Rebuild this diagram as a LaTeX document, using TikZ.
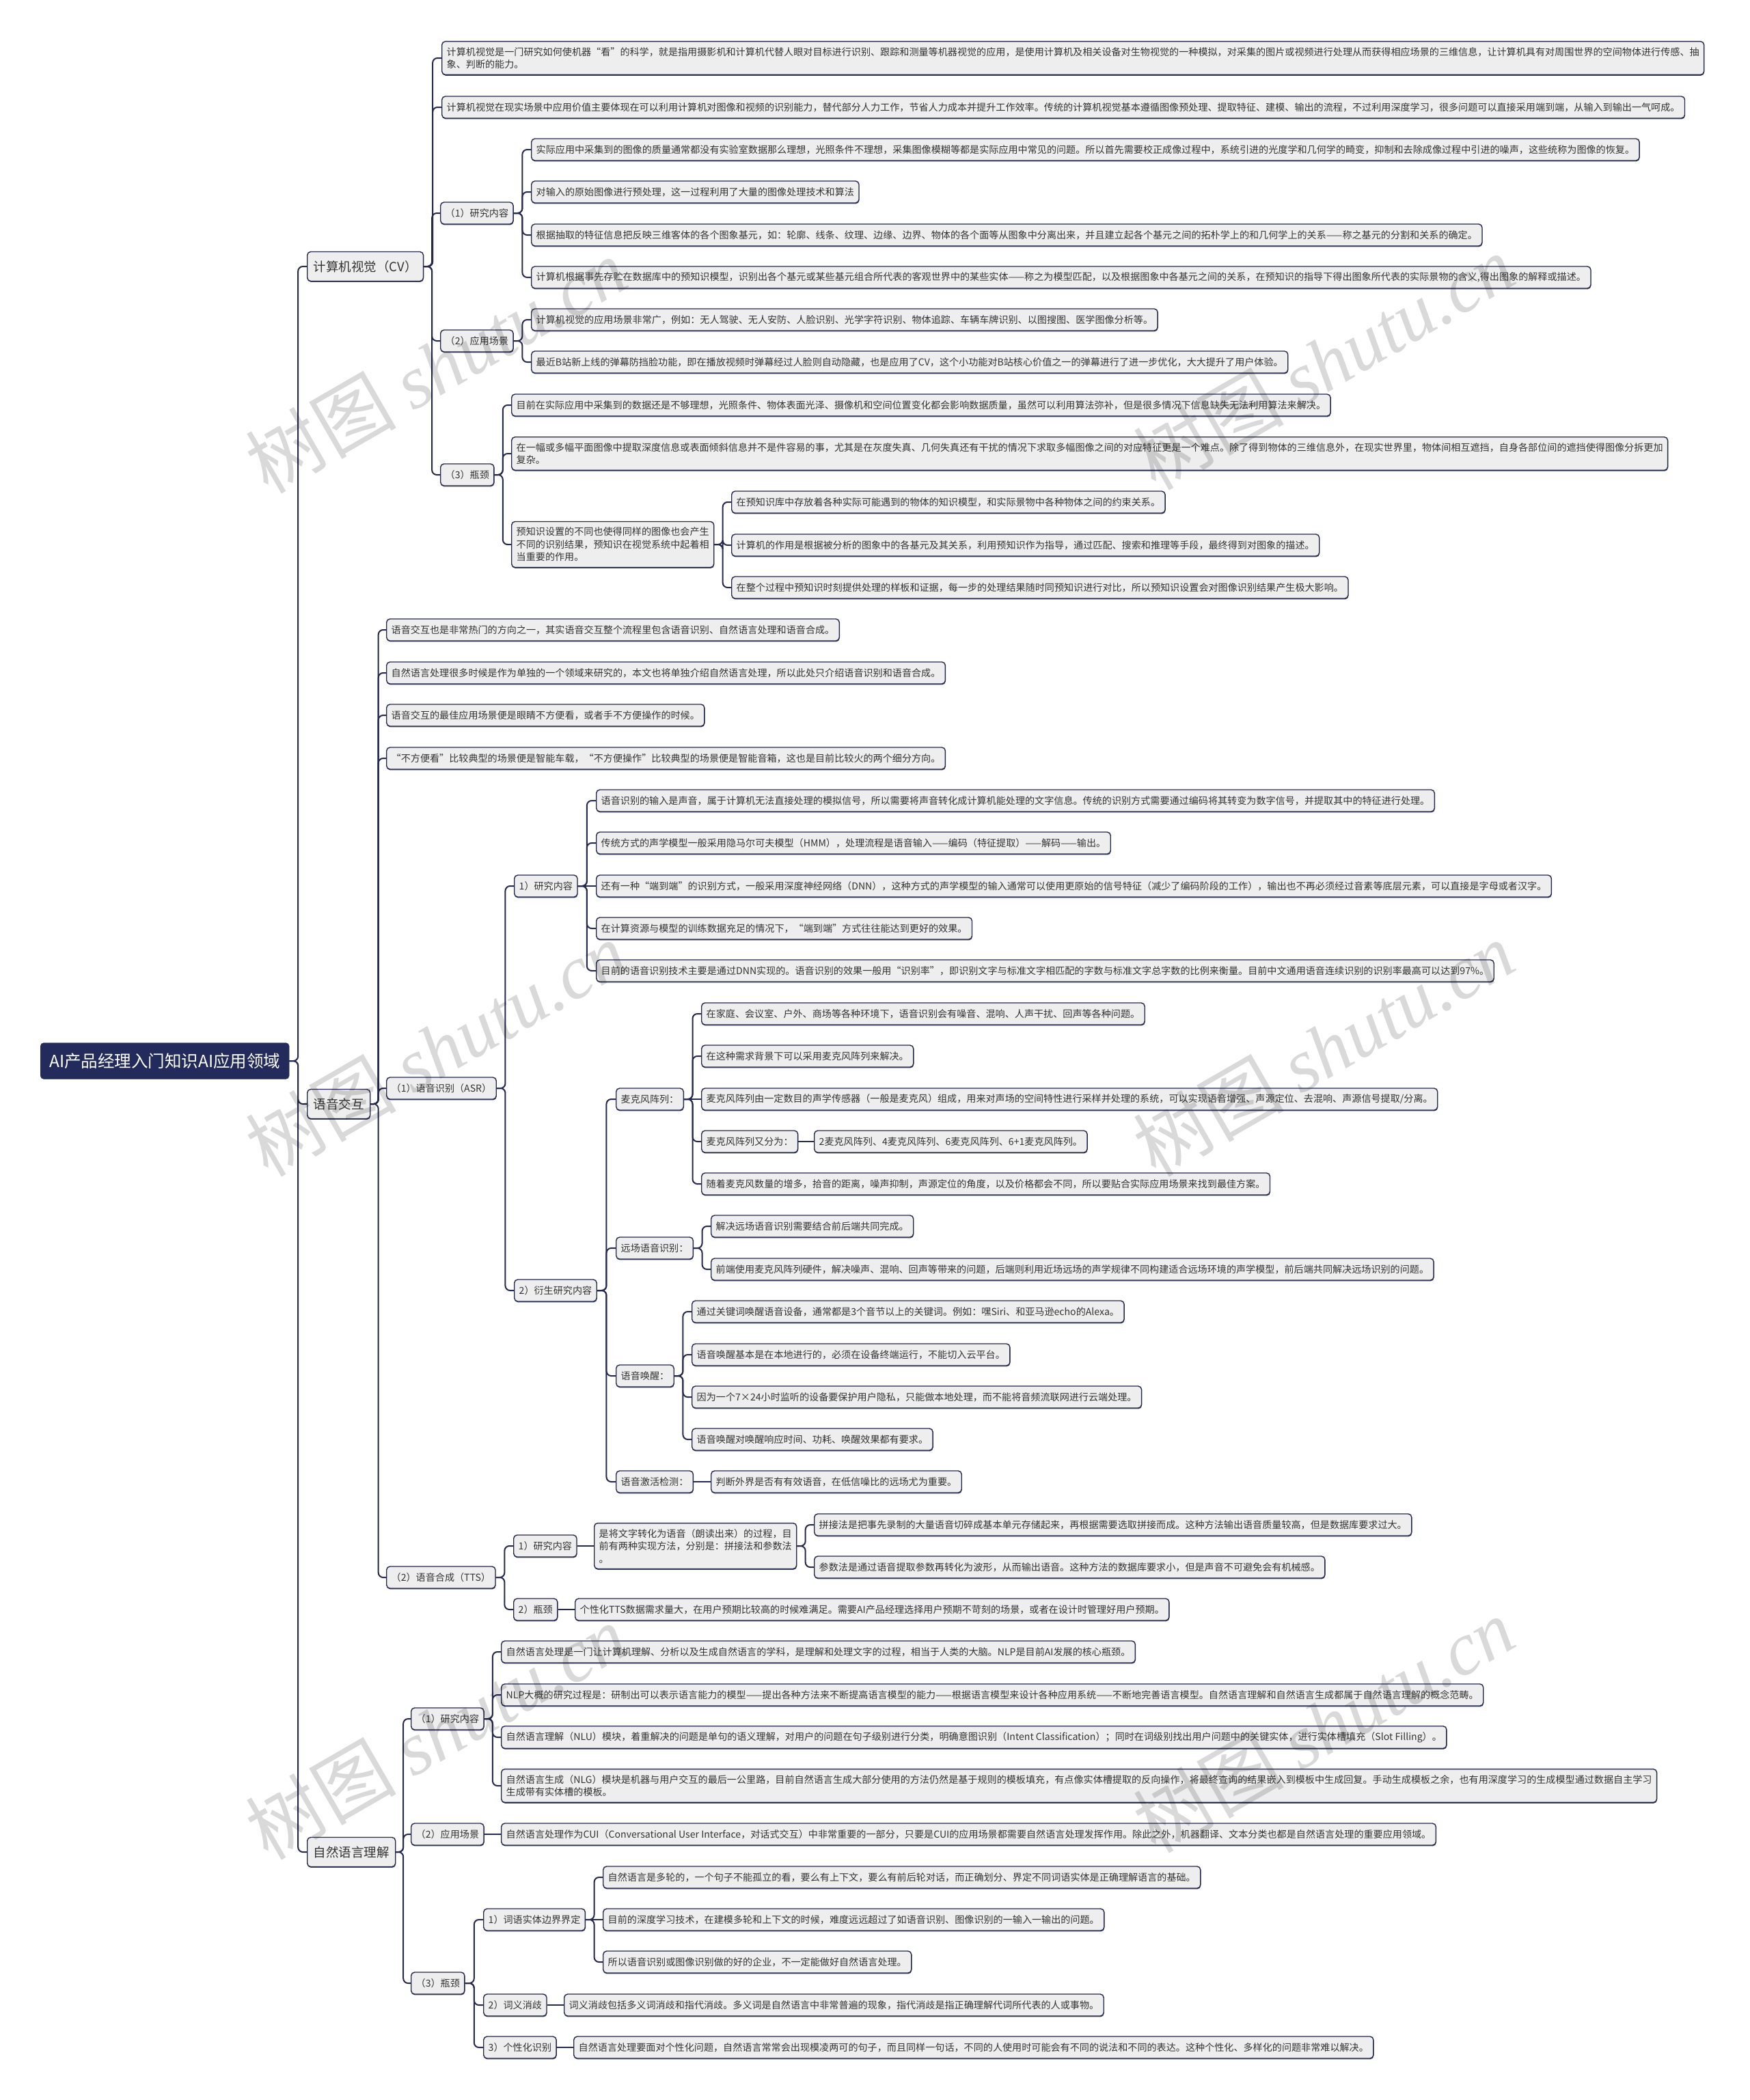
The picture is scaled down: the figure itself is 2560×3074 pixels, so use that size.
\documentclass[tikz,border=0pt]{standalone}
\usepackage{fontspec}
\setmainfont{Noto Sans CJK SC}
\newfontfamily\wmlatin{Liberation Serif}
\usetikzlibrary{calc,shadows}
\definecolor{navy}{HTML}{252A4E}
\definecolor{boxfill}{HTML}{EEEEEE}
\definecolor{txt}{HTML}{333333}
\definecolor{rootfill}{HTML}{222B5C}
\tikzset{
 leaf/.style={draw=navy, line width=1.4pt, fill=boxfill, rounded corners=5pt, text=txt,
   font=\fontsize{14.1}{18.5}\selectfont, inner xsep=7pt, inner ysep=8.5pt, minimum height=32pt,
   anchor=west, align=left, drop shadow={shadow xshift=0.4pt, shadow yshift=-1.4pt, fill=navy, opacity=0.85}},
 lone/.style={leaf, font=\fontsize{18.5}{22}\selectfont, inner xsep=9pt, minimum height=43pt},
 rootbox/.style={fill=rootfill, draw=rootfill, rounded corners=5pt, text=white,
   font=\fontsize{24.5}{28}\selectfont, minimum width=364pt, minimum height=53pt, anchor=west},
 conn/.style={draw=navy, line width=2pt, rounded corners=7pt},
 wm/.style={text=black, opacity=0.15, rotate=30, font=\fontsize{110}{110}\selectfont}
}
\newcommand{\mmlink}[2]{\draw[conn] let \p1=(#1.east), \p2=(#2.west) in (\p1) -- ({0.5*\x1+0.5*\x2},\y1) |- (\p2);}
\newcommand{\mmstraight}[2]{\draw[conn] (#1.east) -- (#2.west);}
\begin{document}
\begin{tikzpicture}[x=1pt, y=-1pt]
\fill[white] (0,0) rectangle (2560,3074);
\useasboundingbox (0,0) rectangle (2560,3074);

% root and level 1
\node[rootbox] (root) at (59,1553) {AI产品经理入门知识AI应用领域};
\node[lone] (cv) at (449,390) {计算机视觉（CV）};
\node[lone] (voice) at (449,1616) {语音交互};
\node[lone] (nlu) at (449,2711) {自然语言理解};

% ---------- CV ----------
\node[leaf] (cv1) at (646,85) {计算机视觉是一门研究如何使机器“看”的科学，就是指用摄影机和计算机代替人眼对目标进行识别、跟踪和测量等机器视觉的应用，是使用计算机及相关设备对生物视觉的一种模拟，对采集的图片或视频进行处理从而获得相应场景的三维信息，让计算机具有对周围世界的空间物体进行传感、抽\\象、判断的能力。};
\node[leaf] (cv2) at (646,157) {计算机视觉在现实场景中应用价值主要体现在可以利用计算机对图像和视频的识别能力，替代部分人力工作，节省人力成本并提升工作效率。传统的计算机视觉基本遵循图像预处理、提取特征、建模、输出的流程，不过利用深度学习，很多问题可以直接采用端到端，从输入到输出一气呵成。};
\node[leaf] (cvr) at (644,312) {（1）研究内容};
\node[leaf] (cvr1) at (777,219) {实际应用中采集到的图像的质量通常都没有实验室数据那么理想，光照条件不理想，采集图像模糊等都是实际应用中常见的问题。所以首先需要校正成像过程中，系统引进的光度学和几何学的畸变，抑制和去除成像过程中引进的噪声，这些统称为图像的恢复。};
\node[leaf] (cvr2) at (777,281) {对输入的原始图像进行预处理，这一过程利用了大量的图像处理技术和算法};
\node[leaf] (cvr3) at (777,344) {根据抽取的特征信息把反映三维客体的各个图象基元，如：轮廓、线条、纹理、边缘、边界、物体的各个面等从图象中分离出来，并且建立起各个基元之间的拓朴学上的和几何学上的关系——称之基元的分割和关系的确定。};
\node[leaf] (cvr4) at (777,406) {计算机根据事先存贮在数据库中的预知识模型，识别出各个基元或某些基元组合所代表的客观世界中的某些实体——称之为模型匹配，以及根据图象中各基元之间的关系，在预知识的指导下得出图象所代表的实际景物的含义,得出图象的解释或描述。};
\node[leaf] (cva) at (644,499) {（2）应用场景};
\node[leaf] (cva1) at (777,468) {计算机视觉的应用场景非常广，例如：无人驾驶、无人安防、人脸识别、光学字符识别、物体追踪、车辆车牌识别、以图搜图、医学图像分析等。};
\node[leaf] (cva2) at (777,530) {最近B站新上线的弹幕防挡脸功能，即在播放视频时弹幕经过人脸则自动隐藏，也是应用了CV，这个小功能对B站核心价值之一的弹幕进行了进一步优化，大大提升了用户体验。};
\node[leaf] (cvb) at (644,695) {（3）瓶颈};
\node[leaf] (cvb1) at (748,593) {目前在实际应用中采集到的数据还是不够理想，光照条件、物体表面光泽、摄像机和空间位置变化都会影响数据质量，虽然可以利用算法弥补，但是很多情况下信息缺失无法利用算法来解决。};
\node[leaf] (cvb2) at (748,664) {在一幅或多幅平面图像中提取深度信息或表面倾斜信息并不是件容易的事，尤其是在灰度失真、几何失真还有干扰的情况下求取多幅图像之间的对应特征更是一个难点。除了得到物体的三维信息外，在现实世界里，物体间相互遮挡，自身各部位间的遮挡使得图像分拆更加\\复杂。};
\node[leaf] (cvb3) at (748,797) {预知识设置的不同也使得同样的图像也会产生\\不同的识别结果，预知识在视觉系统中起着相\\当重要的作用。};
\node[leaf] (cvb31) at (1070,735) {在预知识库中存放着各种实际可能遇到的物体的知识模型，和实际景物中各种物体之间的约束关系。};
\node[leaf] (cvb32) at (1070,798) {计算机的作用是根据被分析的图象中的各基元及其关系，利用预知识作为指导，通过匹配、搜索和推理等手段，最终得到对图象的描述。};
\node[leaf] (cvb33) at (1070,860) {在整个过程中预知识时刻提供处理的样板和证据，每一步的处理结果随时同预知识进行对比，所以预知识设置会对图像识别结果产生极大影响。};

% ---------- Voice ----------
\node[leaf] (v1) at (565,922) {语音交互也是非常热门的方向之一，其实语音交互整个流程里包含语音识别、自然语言处理和语音合成。};
\node[leaf] (v2) at (565,985) {自然语言处理很多时候是作为单独的一个领域来研究的，本文也将单独介绍自然语言处理，所以此处只介绍语音识别和语音合成。};
\node[leaf] (v3) at (565,1047) {语音交互的最佳应用场景便是眼睛不方便看，或者手不方便操作的时候。};
\node[leaf] (v4) at (565,1110) {“不方便看”比较典型的场景便是智能车载，“不方便操作”比较典型的场景便是智能音箱，这也是目前比较火的两个细分方向。};
\node[leaf] (asr) at (565,1593) {（1）语音识别（ASR）};
\node[leaf] (asr1) at (752,1297) {1）研究内容};
\node[leaf] (r1) at (872,1172) {语音识别的输入是声音，属于计算机无法直接处理的模拟信号，所以需要将声音转化成计算机能处理的文字信息。传统的识别方式需要通过编码将其转变为数字信号，并提取其中的特征进行处理。};
\node[leaf] (r2) at (872,1234) {传统方式的声学模型一般采用隐马尔可夫模型（HMM），处理流程是语音输入——编码（特征提取）——解码——输出。};
\node[leaf] (r3) at (872,1297) {还有一种“端到端”的识别方式，一般采用深度神经网络（DNN），这种方式的声学模型的输入通常可以使用更原始的信号特征（减少了编码阶段的工作），输出也不再必须经过音素等底层元素，可以直接是字母或者汉字。};
\node[leaf] (r4) at (872,1359) {在计算资源与模型的训练数据充足的情况下，“端到端”方式往往能达到更好的效果。};
\node[leaf] (r5) at (872,1421) {目前的语音识别技术主要是通过DNN实现的。语音识别的效果一般用“识别率”，即识别文字与标准文字相匹配的字数与标准文字总字数的比例来衡量。目前中文通用语音连续识别的识别率最高可以达到97\%。};
\node[leaf] (asr2) at (752,1889) {2）衍生研究内容};
\node[leaf] (mic) at (901,1609) {麦克风阵列：};
\node[leaf] (m1) at (1026,1484) {在家庭、会议室、户外、商场等各种环境下，语音识别会有噪音、混响、人声干扰、回声等各种问题。};
\node[leaf] (m2) at (1026,1546) {在这种需求背景下可以采用麦克风阵列来解决。};
\node[leaf] (m3) at (1026,1609) {麦克风阵列由一定数目的声学传感器（一般是麦克风）组成，用来对声场的空间特性进行采样并处理的系统，可以实现语音增强、声源定位、去混响、声源信号提取/分离。};
\node[leaf] (m4) at (1026,1671) {麦克风阵列又分为：};
\node[leaf] (m41) at (1191,1671) {2麦克风阵列、4麦克风阵列、6麦克风阵列、6+1麦克风阵列。};
\node[leaf] (m5) at (1026,1733) {随着麦克风数量的增多，拾音的距离，噪声抑制，声源定位的角度，以及价格都会不同，所以要贴合实际应用场景来找到最佳方案。};
\node[leaf] (far) at (901,1827) {远场语音识别：};
\node[leaf] (f1) at (1040,1795) {解决远场语音识别需要结合前后端共同完成。};
\node[leaf] (f2) at (1040,1858) {前端使用麦克风阵列硬件，解决噪声、混响、回声等带来的问题，后端则利用近场远场的声学规律不同构建适合远场环境的声学模型，前后端共同解决远场识别的问题。};
\node[leaf] (wake) at (901,2014) {语音唤醒：};
\node[leaf] (w1) at (1012,1920) {通过关键词唤醒语音设备，通常都是3个音节以上的关键词。例如：嘿Siri、和亚马逊echo的Alexa。};
\node[leaf] (w2) at (1012,1983) {语音唤醒基本是在本地进行的，必须在设备终端运行，不能切入云平台。};
\node[leaf] (w3) at (1012,2045) {因为一个7×24小时监听的设备要保护用户隐私，只能做本地处理，而不能将音频流联网进行云端处理。};
\node[leaf] (w4) at (1012,2107) {语音唤醒对唤醒响应时间、功耗、唤醒效果都有要求。};
\node[leaf] (vad) at (901,2169) {语音激活检测：};
\node[leaf] (vad1) at (1040,2169) {判断外界是否有有效语音，在低信噪比的远场尤为重要。};
\node[leaf] (tts) at (565,2309) {（2）语音合成（TTS）};
\node[leaf] (tts1) at (751,2263) {1）研究内容};
\node[leaf] (tts11) at (869,2263) {是将文字转化为语音（朗读出来）的过程，目\\前有两种实现方法，分别是：拼接法和参数法\\。};
\node[leaf] (s1) at (1191,2232) {拼接法是把事先录制的大量语音切碎成基本单元存储起来，再根据需要选取拼接而成。这种方法输出语音质量较高，但是数据库要求过大。};
\node[leaf] (s2) at (1191,2294) {参数法是通过语音提取参数再转化为波形，从而输出语音。这种方法的数据库要求小，但是声音不可避免会有机械感。};
\node[leaf] (tts2) at (751,2356) {2）瓶颈};
\node[leaf] (tts21) at (841,2356) {个性化TTS数据需求量大，在用户预期比较高的时候难满足。需要AI产品经理选择用户预期不苛刻的场景，或者在设计时管理好用户预期。};

% ---------- NLU ----------
\node[leaf] (nr) at (601,2516) {（1）研究内容};
\node[leaf] (n1) at (733,2418) {自然语言处理是一门让计算机理解、分析以及生成自然语言的学科，是理解和处理文字的过程，相当于人类的大脑。NLP是目前AI发展的核心瓶颈。};
\node[leaf] (n2) at (733,2481) {NLP大概的研究过程是：研制出可以表示语言能力的模型——提出各种方法来不断提高语言模型的能力——根据语言模型来设计各种应用系统——不断地完善语言模型。自然语言理解和自然语言生成都属于自然语言理解的概念范畴。};
\node[leaf] (n3) at (733,2543) {自然语言理解（NLU）模块，着重解决的问题是单句的语义理解，对用户的问题在句子级别进行分类，明确意图识别（Intent Classification）；同时在词级别找出用户问题中的关键实体，进行实体槽填充（Slot Filling）。};
\node[leaf] (n4) at (733,2614) {自然语言生成（NLG）模块是机器与用户交互的最后一公里路，目前自然语言生成大部分使用的方法仍然是基于规则的模板填充，有点像实体槽提取的反向操作，将最终查询的结果嵌入到模板中生成回复。手动生成模板之余，也有用深度学习的生成模型通过数据自主学习\\生成带有实体槽的模板。};
\node[leaf] (na) at (601,2685) {（2）应用场景};
\node[leaf] (na1) at (733,2685) {自然语言处理作为CUI（Conversational User Interface，对话式交互）中非常重要的一部分，只要是CUI的应用场景都需要自然语言处理发挥作用。除此之外，机器翻译、文本分类也都是自然语言处理的重要应用领域。};
\node[leaf] (nb) at (601,2903) {（3）瓶颈};
\node[leaf] (nb1) at (707,2810) {1）词语实体边界界定};
\node[leaf] (e1) at (882,2748) {自然语言是多轮的，一个句子不能孤立的看，要么有上下文，要么有前后轮对话，而正确划分、界定不同词语实体是正确理解语言的基础。};
\node[leaf] (e2) at (882,2810) {目前的深度学习技术，在建模多轮和上下文的时候，难度远远超过了如语音识别、图像识别的一输入一输出的问题。};
\node[leaf] (e3) at (882,2872) {所以语音识别或图像识别做的好的企业，不一定能做好自然语言处理。};
\node[leaf] (nb2) at (707,2935) {2）词义消歧};
\node[leaf] (nb21) at (825,2935) {词义消歧包括多义词消歧和指代消歧。多义词是自然语言中非常普遍的现象，指代消歧是指正确理解代词所代表的人或事物。};
\node[leaf] (nb3) at (707,2997) {3）个性化识别};
\node[leaf] (nb31) at (839,2997) {自然语言处理要面对个性化问题，自然语言常常会出现模凌两可的句子，而且同样一句话，不同的人使用时可能会有不同的说法和不同的表达。这种个性化、多样化的问题非常难以解决。};

% ---------- connectors ----------
\foreach \c in {cv,voice,nlu} {\mmlink{root}{\c}}
\foreach \c in {cv1,cv2,cvr,cva,cvb} {\mmlink{cv}{\c}}
\foreach \c in {cvr1,cvr2,cvr3,cvr4} {\mmlink{cvr}{\c}}
\foreach \c in {cva1,cva2} {\mmlink{cva}{\c}}
\foreach \c in {cvb1,cvb2,cvb3} {\mmlink{cvb}{\c}}
\foreach \c in {cvb31,cvb32,cvb33} {\mmlink{cvb3}{\c}}
\foreach \c in {v1,v2,v3,v4,asr,tts} {\mmlink{voice}{\c}}
\foreach \c in {asr1,asr2} {\mmlink{asr}{\c}}
\foreach \c in {r1,r2,r4,r5} {\mmlink{asr1}{\c}}
\mmstraight{asr1}{r3}
\foreach \c in {mic,far,wake,vad} {\mmlink{asr2}{\c}}
\foreach \c in {m1,m2,m4,m5} {\mmlink{mic}{\c}}
\mmstraight{mic}{m3}
\mmstraight{m4}{m41}
\foreach \c in {f1,f2} {\mmlink{far}{\c}}
\foreach \c in {w1,w2,w3,w4} {\mmlink{wake}{\c}}
\mmstraight{vad}{vad1}
\foreach \c in {tts1,tts2} {\mmlink{tts}{\c}}
\mmstraight{tts1}{tts11}
\foreach \c in {s1,s2} {\mmlink{tts11}{\c}}
\mmstraight{tts2}{tts21}
\foreach \c in {nr,na,nb} {\mmlink{nlu}{\c}}
\foreach \c in {n1,n2,n3,n4} {\mmlink{nr}{\c}}
\mmstraight{na}{na1}
\foreach \c in {nb1,nb2,nb3} {\mmlink{nb}{\c}}
\foreach \c in {e1,e3} {\mmlink{nb1}{\c}}
\mmstraight{nb1}{e2}
\mmstraight{nb2}{nb21}
\mmstraight{nb3}{nb31}

% ---------- watermarks ----------
\foreach \wx/\wy in {638/535, 1937/530, 638/1535, 1937/1535, 638/2535, 1937/2525} {
  \node[wm] at (\wx,\wy) {树图 {\wmlatin\itshape shutu.cn}};
}
\end{tikzpicture}
\end{document}
